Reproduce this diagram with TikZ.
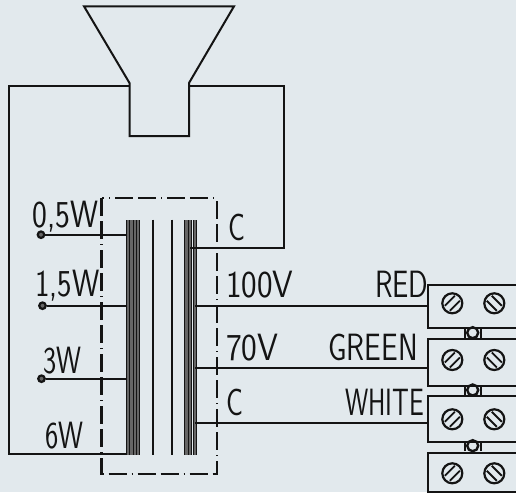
\documentclass[tikz,border=0pt]{standalone}
\usepackage{fontspec}
\definecolor{bgc}{HTML}{E2E9ED}
\definecolor{ink}{HTML}{141414}
\definecolor{core}{HTML}{666666}
\tikzset{
  wire/.style={draw=ink,line width=2pt},
  lamination/.style={draw=ink,line width=2pt},
  frame/.style={draw=ink,line width=2.1pt,dash pattern=on 18pt off 5pt on 18pt off 5pt on 1pt off 5pt},
  lbl/.style={inner sep=0pt,anchor=base west,text=ink,font=\fontsize{38}{38}\selectfont\sffamily},
  tap/.style={circle,draw=ink,line width=2.2pt,fill=core,inner sep=0pt,minimum size=6.5pt},
  screwhead/.style={circle,draw=ink,line width=2.2pt,inner sep=0pt,minimum size=20pt},
  bridge/.style={circle,draw=ink,line width=2.4pt,inner sep=0pt,minimum size=11pt},
  block/.style={draw=ink,line width=2pt,inner sep=0pt,minimum width=120pt,anchor=north west},
  slot/.style={draw=ink,line width=1.8pt}
}
\newcommand{\screwpair}[2]{%
  \node[screwhead] (#1a) at (452.3,#2) {};
  \node[screwhead] (#1b) at (494.3,#2) {};
  \draw[slot] ([shift={(-7.5,2.5)}]#1a.center) -- ([shift={(2.5,-7.5)}]#1a.center);
  \draw[slot] ([shift={(-2.5,7.5)}]#1a.center) -- ([shift={(7.5,-2.5)}]#1a.center);
  \draw[slot] ([shift={(-7.5,-2.5)}]#1b.center) -- ([shift={(2.5,7.5)}]#1b.center);
  \draw[slot] ([shift={(-2.5,-7.5)}]#1b.center) -- ([shift={(7.5,2.5)}]#1b.center);
}
\newcommand{\linkpost}[3]{%
  \node[bridge] (#1) at (472.7,#2) {};
  \draw[wire] ([xshift=-8pt]#1.center |- 0,#3) -- ++(0,-9);
  \draw[wire] ([xshift=8pt]#1.center |- 0,#3) -- ++(0,-9);
}
\newcommand{\sq}[2]{\scalebox{#1}[1]{#2}}
\begin{document}
\begin{tikzpicture}[x=1pt,y=-1pt]
\useasboundingbox (0,0) rectangle (516,492);
\fill[bgc] (0,0) rectangle (516,492);
\clip (0,0) rectangle (516,492);
% speaker
\draw[wire,line join=miter] (84,6.3) -- (234,6.3) -- (189,83) -- (189,136) -- (129.5,136) -- (129.5,83) -- cycle;
\coordinate (spkL) at (129.5,86.5);
\coordinate (spkR) at (189,86.5);
% core
\fill[core] (126,220) rectangle (139.5,454.5);
\fill[core] (184.3,220) rectangle (191,454.5);
\fill[core] (192.5,220) rectangle (197,454.5);
\foreach \x in {126.6,129.8,133,136.2,139}{\draw[draw=ink,line width=.7pt] (\x,220) -- (\x,454.5);}
\foreach \x in {184.8,188,191,193,196.5}{\draw[draw=ink,line width=.7pt] (\x,220) -- (\x,454.5);}
\draw[lamination] (152.7,219.5) -- (152.7,455);
\draw[lamination] (171.7,219.5) -- (171.7,455);
\coordinate (pL05) at (127,234.7);
\coordinate (pL15) at (127,305.7);
\coordinate (pL3) at (127,378.7);
\coordinate (pL6) at (127,454);
\coordinate (pRC) at (190,247.7);
\coordinate (pR100) at (195,305.7);
\coordinate (pR70) at (195,368.3);
\coordinate (pRW) at (195,423.3);
% frame
\draw[frame] (101.5,198.3) rectangle (216.7,474.3);
% taps
\node[tap] (t05) at (41,234.7) {};
\node[tap] (t15) at (42.5,305.7) {};
\node[tap] (t3) at (41.5,378.7) {};
\draw[wire] (t05) -- (pL05);
\draw[wire] (t15) -- (pL15);
\draw[wire] (t3) -- (pL3);
\draw[wire] (spkL) -- (9,86.5) -- (9,454) -- (pL6);
\draw[wire] (spkR) -- (283.5,86.5) -- (283.5,247.7) -- (pRC);
% terminals
\node[block,minimum height=43pt] (b1) at (426.7,284.3) {};
\node[block,minimum height=47pt] (b2) at (426.7,338.3) {};
\node[block,minimum height=45.7pt] (b3) at (426.7,395) {};
\node[block,minimum height=39pt] (b4) at (426.7,451.7) {};
\screwpair{s1}{303.3}
\screwpair{s2}{360}
\screwpair{s3}{419.3}
\screwpair{s4}{473.3}
\linkpost{l1}{332.7}{337.7}
\linkpost{l2}{390}{395}
\linkpost{l3}{445.7}{451}
\draw[wire] (pR100) -- (b1.west |- pR100);
\draw[wire] (pR70) -- (b2.west |- pR70);
\draw[wire] (pRW) -- (b3.west |- pRW);
% labels
\node[lbl] (a1) at (32,227) {\sq{.83}{0,5W}};
\node[lbl] (a2) at (35,296) {\sq{.81}{1,5W}};
\node[lbl] (a3) at (43,373) {\sq{.74}{3W}};
\node[lbl] (a4) at (45,448) {\sq{.74}{6W}};
\node[lbl] (a5) at (228,240) {\sq{.74}{C}};
\node[lbl] (a6) at (226,297) {\sq{.87}{100V}};
\node[lbl] (a7) at (226,360) {\sq{.88}{70V}};
\node[lbl] (a8) at (226,415) {\sq{.74}{C}};
\node[lbl] (a9) at (375,297) {\sq{.76}{RED}};
\node[lbl] (a10) at (328,360) {\sq{.78}{GREEN}};
\node[lbl] (a11) at (345,415) {\sq{.69}{WHITE}};
\end{tikzpicture}
\end{document}
